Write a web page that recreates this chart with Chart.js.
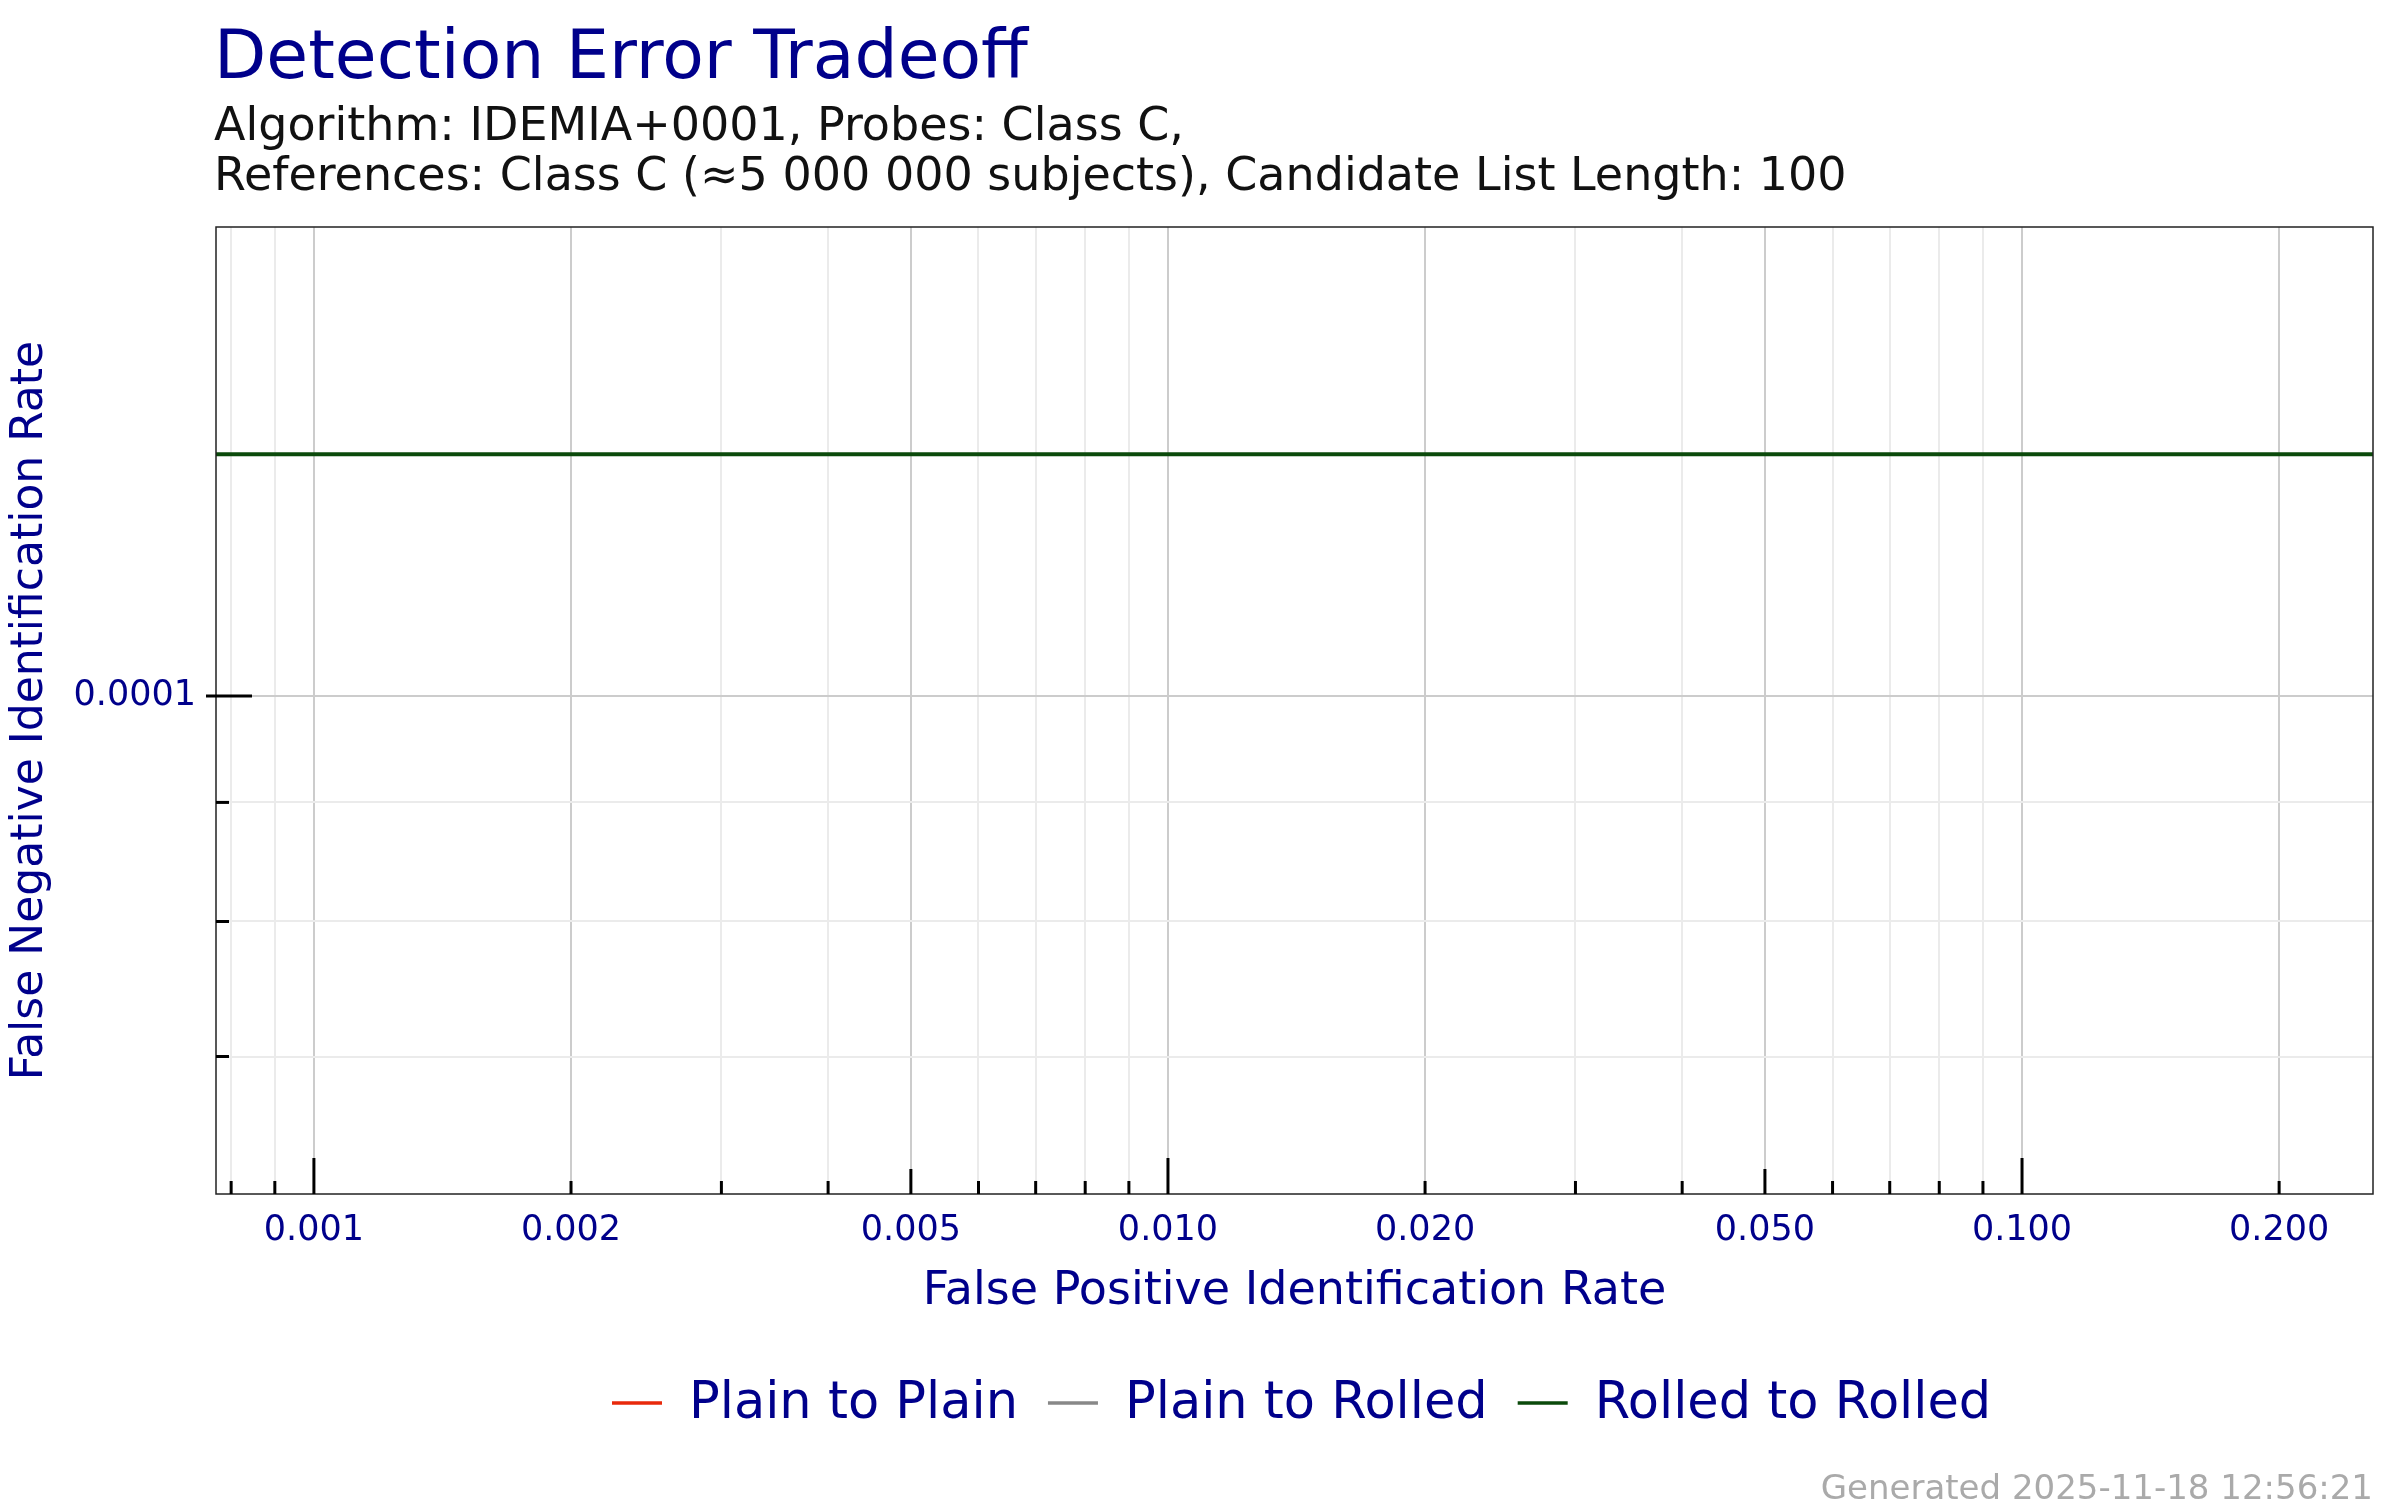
<!DOCTYPE html>
<html><head><meta charset="utf-8">
<script src="https://cdn.jsdelivr.net/npm/chart.js@4/dist/chart.umd.min.js"></script>
<style>html,body{margin:0;padding:0;background:#fff}</style>
</head><body>
<canvas id="c" width="2400" height="1500" style="width:2400px;height:1500px"></canvas>
<script>
const seriesNames = ["Plain to Plain", "Plain to Rolled", "Rolled to Rolled"];
const seriesColors = ["#e8290b", "#888888", "#0b4a0b"];
const rolledX = [0.000768, 0.2576];
const rolledY = [0.000127, 0.000127];
const xMajor = [0.001, 0.002, 0.005, 0.01, 0.02, 0.05, 0.1, 0.2];
const xMinor = [0.0008, 0.0009, 0.003, 0.004, 0.006, 0.007, 0.008, 0.009, 0.03, 0.04, 0.06, 0.07, 0.08, 0.09];
const yMajor = [0.0001];
const yMinor = [0.00007, 0.00008, 0.00009];
const NAVY = "#00008B";
const F = "DejaVu Sans";

const decor = {
  id: 'decor',
  afterDraw(ch) {
    const c = ch.ctx, a = ch.chartArea, xs = ch.scales.x, ys = ch.scales.y;
    c.save();
    c.strokeStyle = '#222'; c.lineWidth = 1.5;
    c.strokeRect(a.left, a.top, a.right - a.left, a.bottom - a.top);
    c.strokeStyle = '#000'; c.lineWidth = 3;
    const all = xMajor.concat(xMinor);
    all.forEach(v => {
      const p = xs.getPixelForValue(v);
      const l10 = Math.abs(Math.log10(v) - Math.round(Math.log10(v))) < 1e-6;
      const l5 = Math.abs(Math.log10(v / 5) - Math.round(Math.log10(v / 5))) < 1e-6;
      const len = l10 ? 36 : (l5 ? 25 : 13);
      c.beginPath(); c.moveTo(p, a.bottom); c.lineTo(p, a.bottom - len); c.stroke();
    });
    yMajor.forEach(v => { const p = ys.getPixelForValue(v); c.beginPath(); c.moveTo(a.left - 10, p); c.lineTo(a.left + 36, p); c.stroke(); });
    yMinor.forEach(v => { const p = ys.getPixelForValue(v); c.beginPath(); c.moveTo(a.left, p); c.lineTo(a.left + 13, p); c.stroke(); });
    c.fillStyle = NAVY; c.textBaseline = 'alphabetic'; c.textAlign = 'left';
    c.font = `68px "${F}"`; c.fillText('Detection Error Tradeoff', 214, 78);
    c.fillStyle = '#111'; c.font = `46px "${F}"`;
    c.fillText('Algorithm: IDEMIA+0001, Probes: Class C,', 214, 140);
    c.fillText('References: Class C (\u22485 000 000 subjects), Candidate List Length: 100', 214, 190);
    c.font = `51px "${F}"`; c.textBaseline = 'middle';
    let x = 612; const y = 1403;
    seriesNames.forEach((n, i) => {
      c.strokeStyle = seriesColors[i]; c.lineWidth = 3.5;
      c.beginPath(); c.moveTo(x, y); c.lineTo(x + 50, y); c.stroke();
      c.fillStyle = NAVY; c.fillText(n, x + 77, y + 2);
      x += 77 + c.measureText(n).width + 30;
    });
    c.fillStyle = '#aaa'; c.font = `34px "${F}"`; c.textAlign = 'right';
    c.fillText('Generated 2025-11-18 12:56:21', 2373, 1500 - 10);
    c.restore();
  }
};

new Chart(document.getElementById('c'), {
  type: 'line',
  data: { datasets: [
    { label: seriesNames[0], data: [], borderColor: seriesColors[0] },
    { label: seriesNames[1], data: [], borderColor: seriesColors[1] },
    { label: seriesNames[2], data: rolledX.map((v, i) => ({x: v, y: rolledY[i]})), borderColor: seriesColors[2], borderWidth: 4, pointRadius: 0 }
  ]},
  options: {
    responsive: false, animation: false, devicePixelRatio: 1,
    layout: { padding: { top: 227, right: 27, bottom: 176, left: 0 } },
    plugins: { legend: { display: false }, title: { display: false }, tooltip: { enabled: false } },
    scales: {
      x: { type: 'logarithmic', min: 0.000768, max: 0.2576,
        afterBuildTicks: s => { s.ticks = xMajor.concat(xMinor).map(v => ({value: v})); },
        afterFit: s => { s.height = 130; },
        ticks: { autoSkip: false, maxRotation: 0, padding: 16, color: NAVY, font: { family: F, size: 35 },
          callback: v => xMajor.includes(v) ? v.toFixed(3) : '' },
        grid: { drawTicks: false, color: ctx => xMajor.includes(ctx.tick.value) ? '#cccccc' : '#ebebeb', lineWidth: 2 },
        border: { display: false },
        title: { display: true, text: 'False Positive Identification Rate', color: NAVY, font: { family: F, size: 46 }, padding: { top: 0 } } },
      y: { type: 'logarithmic', min: 0.0000611, max: 0.000159,
        afterBuildTicks: s => { s.ticks = yMajor.concat(yMinor).map(v => ({value: v})); },
        afterFit: s => { s.width = 216; },
        ticks: { autoSkip: false, padding: 20, color: NAVY, font: { family: F, size: 35 },
          callback: v => yMajor.includes(v) ? '0.0001' : '' },
        grid: { drawTicks: false, color: ctx => yMajor.includes(ctx.tick.value) ? '#cccccc' : '#ebebeb', lineWidth: 2 },
        border: { display: false },
        title: { display: true, text: 'False Negative Identification Rate', color: NAVY, font: { family: F, size: 44 }, padding: { bottom: 20 } } }
    }
  },
  plugins: [decor]
});
</script>
</body></html>
